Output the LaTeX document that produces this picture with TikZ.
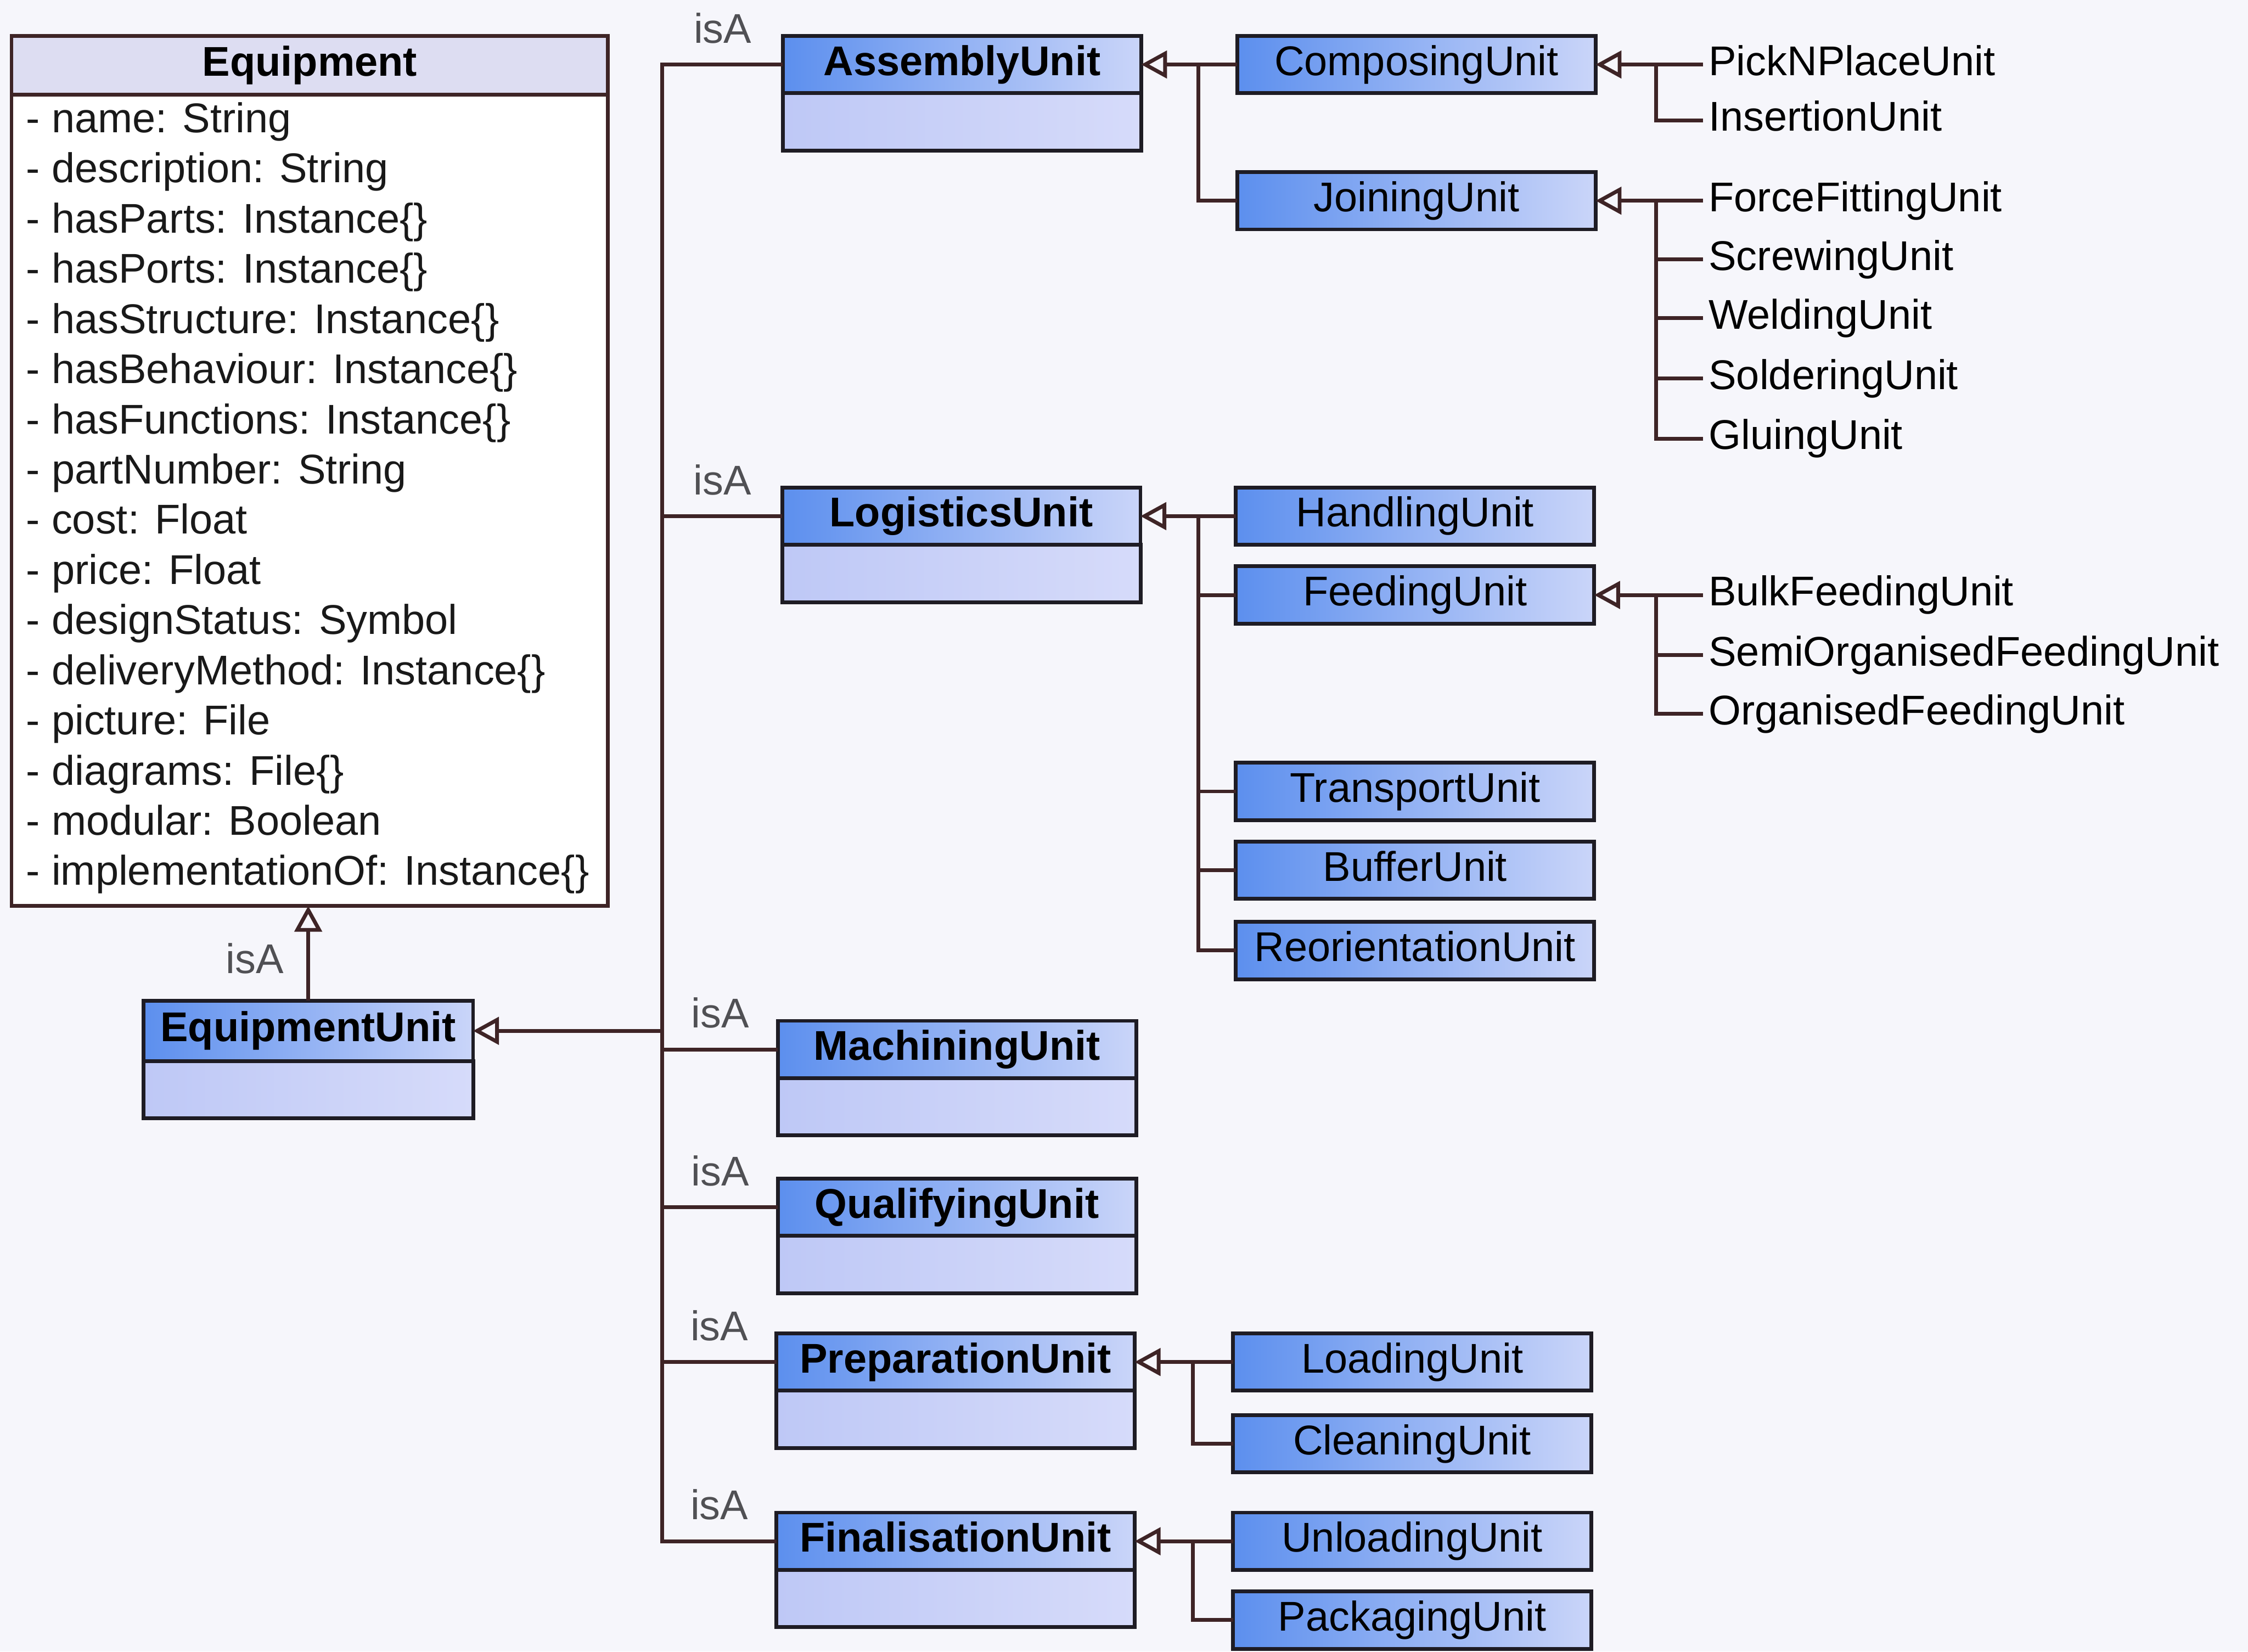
\documentclass[tikz,border=0pt]{standalone}
\usepackage{fontspec}
\setmainfont{Liberation Sans}
\usetikzlibrary{arrows.meta}

\definecolor{unitdark}{RGB}{92,143,238}
\definecolor{unitlight}{RGB}{202,213,249}
\definecolor{bodydark}{RGB}{190,200,246}
\definecolor{bodylight}{RGB}{214,219,250}
\definecolor{classhead}{RGB}{221,221,242}
\definecolor{boxline}{RGB}{30,28,36}
\definecolor{wire}{RGB}{62,36,38}
\definecolor{isagray}{RGB}{80,80,84}
\definecolor{paper}{RGB}{246,246,251}

\begin{document}
\begin{tikzpicture}[x=0.02cm, y=-0.02cm,
  txt/.style={font=\fontsize{16.5}{19.9}\selectfont, text height=12pt, text depth=3.5pt},
  unit/.style={txt, draw=boxline, line width=1.5pt, left color=unitdark, right color=unitlight,
    minimum width=5cm, minimum height=0.8cm, inner sep=0pt, outer sep=0pt},
  mainunit/.style={unit, font=\fontsize{16.5}{19.9}\selectfont\bfseries},
  unitbody/.style={draw=boxline, line width=1.5pt, left color=bodydark, right color=bodylight},
  leaf/.style={txt, anchor=west, inner sep=2pt},
  attr/.style={txt, anchor=west, inner sep=0pt, text=black!90},
  isa/.style={txt, text=isagray},
  link/.style={draw=wire, line width=1.5pt},
  gen/.style={link, -{Triangle[open, length=0.36cm, width=0.38cm]}}]

\path[use as bounding box, fill=paper] (0,0) rectangle (1568,1152);

% Equipment class
\node[txt, draw=wire, line width=1.5pt, fill=classhead, minimum width=8.32cm, minimum height=0.82cm,
  inner sep=0pt, outer sep=0pt, font=\fontsize{16.5}{19.9}\selectfont\bfseries] (equipment) at (216,45.5) {Equipment};
\node[draw=wire, line width=1.5pt, fill=white, minimum width=8.32cm, minimum height=11.32cm,
  anchor=north, outer sep=0pt] (attrs) at (equipment.south) {};
\foreach \a [count=\i from 0] in {name: String, description: String, hasParts: Instance\{\},
  hasPorts: Instance\{\}, hasStructure: Instance\{\}, hasBehaviour: Instance\{\},
  hasFunctions: Instance\{\}, partNumber: String, cost: Float, price: Float,
  designStatus: Symbol, deliveryMethod: Instance\{\}, picture: File, diagrams: File\{\},
  modular: Boolean, implementationOf: Instance\{\}}
  \node[attr] (attr\i) at (18,{85+35*\i}) {- \a};

% EquipmentUnit
\node[mainunit, minimum width=4.6cm, minimum height=0.84cm] (equnit) at (215,719) {EquipmentUnit};
\path[unitbody] (equnit.south west) rectangle ++(230,40);
\draw[gen] (equnit.north) -- (equnit.north |- attrs.south) node[isa, pos=0.4, left=0.2cm] (isaequnit) {isA};

% top level units
\foreach \u/\x/\y/\t in {assembly/671/45/AssemblyUnit, logistics/670.5/360/LogisticsUnit,
  machining/667.5/732/MachiningUnit, qualifying/667.5/842/QualifyingUnit,
  preparation/666.5/950/PreparationUnit, finalisation/666.5/1075/FinalisationUnit}{
  \node[mainunit] (\u) at (\x,\y) {\t};
  \path[unitbody] (\u.south west) rectangle ++(250,40);
}

\coordinate (trunk) at (462,719);
\draw[gen] (trunk) -- (equnit.east);
\foreach \u in {assembly, logistics, machining, qualifying, preparation, finalisation}
  \draw[link] (\u.west) -| (trunk) node[isa, pos=0.25, above=1pt] (isa\u) {isA};

% sub units
\foreach \u/\x/\y/\t in {composing/988/45/ComposingUnit, joining/988/140/JoiningUnit,
  handling/987/360/HandlingUnit, feeding/987/415/FeedingUnit, transport/987/552/TransportUnit,
  buffer/987/607/BufferUnit, reorient/987/663/ReorientationUnit,
  loading/985/950/LoadingUnit, cleaning/985/1007/CleaningUnit,
  unloading/985/1075/UnloadingUnit, packaging/985/1130/PackagingUnit}
  \node[unit] (\u) at (\x,\y) {\t};

% leaves
\foreach \u/\y/\t in {pnp/45/PickNPlaceUnit, insertion/84/InsertionUnit,
  forcefit/140/ForceFittingUnit, screwing/181/ScrewingUnit, welding/222/WeldingUnit,
  soldering/264/SolderingUnit, gluing/306/GluingUnit,
  bulkfeed/415/BulkFeedingUnit, semifeed/457/SemiOrganisedFeedingUnit, orgfeed/498/OrganisedFeedingUnit}
  \node[leaf] (\u) at (1188,\y) {\t};

% assembly branch
\coordinate (asmbus) at (836,45);
\draw[gen] (composing) -- (assembly);
\draw[link] (joining.west) -| (asmbus);

\coordinate (cmpbus) at (1155,45);
\draw[gen] (pnp) -- (composing);
\draw[link] (insertion.west) -| (cmpbus);

\coordinate (joinbus) at (1155,140);
\draw[gen] (forcefit) -- (joining);
\foreach \u in {screwing, welding, soldering, gluing}
  \draw[link] (\u.west) -| (joinbus);

% logistics branch
\coordinate (logbus) at (836,360);
\draw[gen] (handling) -- (logistics);
\foreach \u in {feeding, transport, buffer, reorient}
  \draw[link] (\u.west) -| (logbus);

\coordinate (feedbus) at (1155,415);
\draw[gen] (bulkfeed) -- (feeding);
\foreach \u in {semifeed, orgfeed}
  \draw[link] (\u.west) -| (feedbus);

% preparation and finalisation
\coordinate (prepbus) at (832,950);
\draw[gen] (loading) -- (preparation);
\draw[link] (cleaning.west) -| (prepbus);

\coordinate (finbus) at (832,1075);
\draw[gen] (unloading) -- (finalisation);
\draw[link] (packaging.west) -| (finbus);
\end{tikzpicture}
\end{document}
